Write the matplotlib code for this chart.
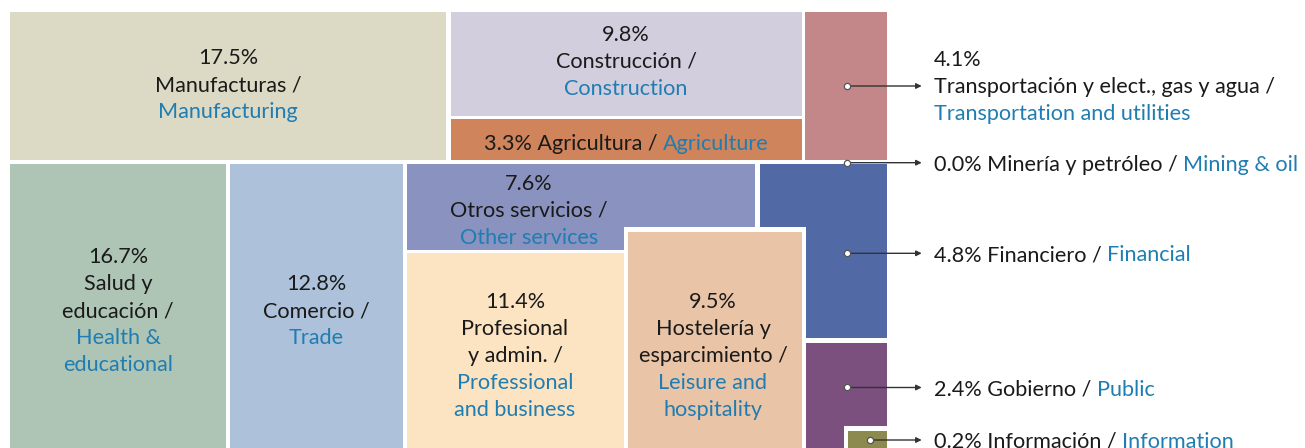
import matplotlib
matplotlib.use("Agg")
import matplotlib.pyplot as plt
from matplotlib.patches import Rectangle

plt.rcParams['font.family'] = ['Lato', 'DejaVu Sans']

# data
sectors_es = ['Manufacturas', 'Construcción', 'Agricultura', 'Transportación y elect., gas y agua',
              'Minería y petróleo', 'Salud y\neducación', 'Comercio', 'Otros servicios',
              'Profesional\ny admin.', 'Hostelería y\nesparcimiento', 'Financiero', 'Gobierno',
              'Información']
sectors_en = ['Manufacturing', 'Construction', 'Agriculture', 'Transportation and utilities',
              'Mining & oil', 'Health &\neducational', 'Trade', 'Other services',
              'Professional\nand business', 'Leisure and\nhospitality', 'Financial', 'Public',
              'Information']
shares = [17.5, 9.8, 3.3, 4.1, 0.0, 16.7, 12.8, 7.6, 11.4, 9.5, 4.8, 2.4, 0.2]
colors = ['#dcd9c4', '#d3cedd', '#cf845b', '#c3878a', '#c3878a', '#aec5b6', '#adc2da',
          '#8a92bf', '#fce3c1', '#e9c4a7', '#5169a4', '#7b507f', '#8c8a4e']

# layout (pixels): box x0, y0, x1, y1 ; None = no box
boxes = [(10, 11.7, 446, 160), (450.5, 11.7, 801.5, 115.7), (450.5, 119.3, 801.5, 160),
         (805, 11.7, 886.7, 160), None, (10, 164, 226, 460), (230, 164, 402.7, 460),
         (406.7, 164.5, 755, 250), (406.7, 253.5, 624, 460), (628.3, 231.7, 801.7, 460),
         (760, 164.5, 886.7, 338.3), (805, 342.7, 886.7, 460), (848.3, 430.7, 886.7, 460)]
framed = [9, 12]  # drawn with a white frame on top of neighbours
# label: ('box', cx, y_first, stacked) or ('call', dot_x, dot_y, y_first, stacked)
labels = [('box', 228, 56, True), ('box', 626, 33, True), ('box', 626, 142, False),
          ('call', 847, 86, 58, True), ('call', 847, 162.7, 162.7, False),
          ('box', 118, 255, True), ('box', 316, 282, True), ('box', 529, 181.7, True),
          ('box', 515, 300, True), ('box', 713, 300, True),
          ('call', 847, 253.3, 253.3, False), ('call', 847, 387.5, 387.5, False),
          ('call', 870, 440, 440, False)]

BLACK = '#1a1a1a'
BLUE = '#1f7db2'
FS = 15.6
LINE = 27
TEXT_X = 934
ARROW_END = 921.7

fig = plt.figure(figsize=(13.05, 4.48), dpi=100)
ax = fig.add_axes([0, 0, 1, 1])
ax.set_xlim(0, 1305)
ax.set_ylim(448, 0)
ax.axis('off')

for i, b in enumerate(boxes):
    if b is None:
        continue
    x0, y0, x1, y1 = b
    z = 2 if i in framed else 1
    if i in framed:
        pad = 4.5
        ax.add_patch(Rectangle((x0 - pad, y0 - pad), x1 - x0 + 2 * pad, y1 - y0 + 2 * pad,
                               facecolor='white', edgecolor='none', zorder=z))
    ax.add_patch(Rectangle((x0, y0), x1 - x0, y1 - y0, facecolor=colors[i],
                           edgecolor='none', zorder=z))

fig.canvas.draw()
renderer = fig.canvas.get_renderer()


def width(s):
    t = ax.text(0, 0, s, fontsize=FS)
    w = t.get_window_extent(renderer).width
    t.remove()
    return w


def put_line(x, y, black, blue, ha):
    full = black + blue
    total = width(full)
    start = x - total / 2 if ha == 'center' else x
    if black:
        ax.text(start, y + 8, black, color=BLACK, fontsize=FS, va='baseline', ha='left', zorder=5)
    if blue:
        ax.text(start + total - width(blue), y + 8, blue, color=BLUE, fontsize=FS,
                va='baseline', ha='left', zorder=5)


for i, lab in enumerate(labels):
    pct = f"{shares[i]:.1f}%"
    es_lines = sectors_es[i].split('\n')
    en_lines = sectors_en[i].split('\n')
    if lab[0] == 'box':
        _, x, y, stacked = lab
        ha = 'center'
    else:
        _, dx, dy, y, stacked = lab
        x = TEXT_X
        ha = 'left'
        ax.annotate('', xy=(ARROW_END, dy), xytext=(dx, dy),
                    arrowprops=dict(arrowstyle='-|>', color='#333333', lw=1.0,
                                    mutation_scale=8, shrinkA=0, shrinkB=0), zorder=6)
        ax.plot([dx], [dy], 'o', ms=4.5, mfc='white', mec='#555555', mew=0.9, zorder=7)
    if stacked:
        rows = [(pct, '')]
        for k, s in enumerate(es_lines):
            rows.append((s + (' /' if k == len(es_lines) - 1 else ''), ''))
        rows += [('', s) for s in en_lines]
    else:
        rows = [(f"{pct} {es_lines[0]} / ", en_lines[0])]
    for k, (bl, bu) in enumerate(rows):
        put_line(x, y + k * LINE, bl, bu, ha)

fig.savefig('out.png', dpi=100)
